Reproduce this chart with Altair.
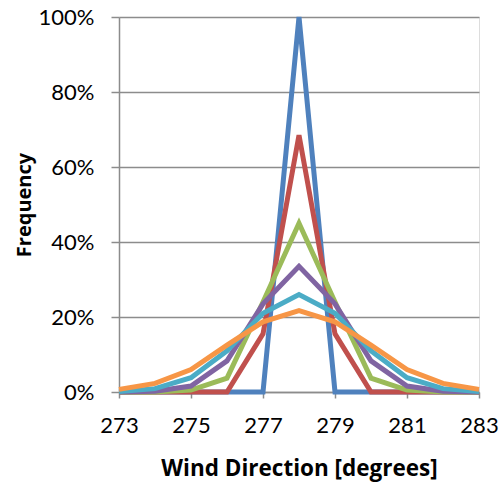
import altair as alt
import pandas as pd

directions = [273, 274, 275, 276, 277, 278, 279, 280, 281, 282, 283]
series_names = ["S1", "S2", "S3", "S4", "S5", "S6"]
blue = [0, 0, 0, 0, 0, 100, 0, 0, 0, 0, 0]
red = [0, 0, 0, 0, 15.5, 68.5, 15.5, 0, 0, 0, 0]
green = [0, 0, 0.5, 3.7, 24, 45, 24, 3.7, 0.5, 0, 0]
purple = [0, 0.2, 1.6, 8.3, 23.5, 33.5, 23.5, 8.3, 1.6, 0.2, 0]
teal = [0.1, 0.9, 3.8, 11, 21, 26, 21, 11, 3.8, 0.9, 0.1]
orange = [0.7, 2.3, 6, 12.5, 18.7, 21.7, 18.7, 12.5, 6, 2.3, 0.7]
colors = ["#4F81BD", "#C0504D", "#9BBB59", "#8064A2", "#4BACC6", "#F79646"]

all_series = [blue, red, green, purple, teal, orange]

LFONT = "Lato"
TFONT = "Open Sans"

layers = []
for name, vals, col in zip(series_names, all_series, colors):
    df = pd.DataFrame({"dir": directions, "freq": [v / 100 for v in vals]})
    layers.append(
        alt.Chart(df).mark_line(strokeWidth=5, color=col, strokeJoin="miter").encode(
            x=alt.X("dir:Q",
                    scale=alt.Scale(domain=[273, 283], nice=False, zero=False),
                    axis=alt.Axis(values=[273, 275, 277, 279, 281, 283], format="d",
                                  title="Wind Direction [degrees]", grid=False,
                                  domainColor="#8C8C8C", domainWidth=1.5,
                                  tickColor="#8C8C8C", tickWidth=1.5, tickSize=6,
                                  labelFont=LFONT, labelFontSize=22, labelColor="black",
                                  labelPadding=17, titleFont=TFONT, titleFontSize=22.5,
                                  titleFontWeight="bold", titleColor="black",
                                  titlePadding=21, labelFlush=False)),
            y=alt.Y("freq:Q",
                    scale=alt.Scale(domain=[0, 1], nice=False),
                    axis=alt.Axis(values=[0, 0.2, 0.4, 0.6, 0.8, 1.0], format=".0%",
                                  title="Frequency", grid=True, gridColor="#8C8C8C",
                                  gridWidth=1.5, domainColor="#8C8C8C", domainWidth=1.5,
                                  tickColor="#8C8C8C", tickWidth=1.5, tickSize=8,
                                  labelFont=LFONT, labelFontSize=22, labelColor="black",
                                  labelPadding=17, titleFont=TFONT, titleFontSize=20,
                                  titleFontWeight="bold", titleColor="black",
                                  titlePadding=4, labelFlush=False)),
        )
    )

chart = alt.layer(*layers).properties(
    width=360, height=375,
    autosize=alt.AutoSizeParams(type="none"),
    padding={"left": 119, "top": 17, "right": 22, "bottom": 90},
).configure_view(stroke=None).configure(background="white")

chart.save("out.html", embed_options={"renderer": "svg", "actions": False})
